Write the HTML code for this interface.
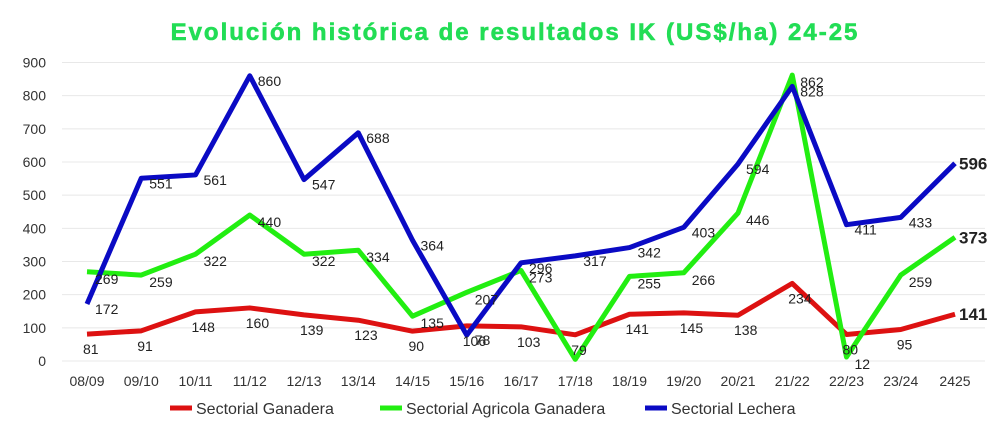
<!DOCTYPE html>
<html><head><meta charset="utf-8"><style>
body{margin:0;background:#fff;font-family:"Liberation Sans",sans-serif}
svg{display:block}
</style></head><body>
<svg id="c" width="1000" height="430">
<text x="515" y="40" text-anchor="middle" font-size="24" letter-spacing="2" font-weight="bold" fill="#22dd55" stroke="#22dd55" stroke-width="0.6">Evolución histórica de resultados IK (US$/ha) 24-25</text>
<g id="grid"></g><g id="lines"></g><g id="labels"></g><g id="legend"></g>
</svg>
<script>
const categories=["08/09","09/10","10/11","11/12","12/13","13/14","14/15","15/16","16/17","17/18","18/19","19/20","20/21","21/22","22/23","23/24","2425"];
const ganadera=[81,91,148,160,139,123,90,106,103,79,141,145,138,234,80,95,141];
const agricola=[269,259,322,440,322,334,135,207,273,5,255,266,446,862,12,259,373];
const lechera=[172,551,561,860,547,688,364,78,296,317,342,403,594,828,411,433,596];
const agricolaLabels=["269","259","322","440","322","334","135","207","273","","255","266","446","862","12","259","373"];
const yTicks=[0,100,200,300,400,500,600,700,800,900];
const NS="http://www.w3.org/2000/svg";
const x=i=>87+i*54.25, y=v=>361-v*(298.5/900);
function mk(t,a,p){const e=document.createElementNS(NS,t);for(const k in a)e.setAttribute(k,a[k]);p.appendChild(e);return e;}
const g=document.getElementById('grid');
yTicks.forEach(v=>{
 const l=mk('line',{x1:62,x2:985,y1:y(v),y2:y(v),stroke:'#e8e8e8','stroke-width':1},g);
 
 
 const t=mk('text',{x:46,y:y(v)+5,'text-anchor':'end','font-size':14,fill:'#333'},g);t.textContent=v;
 
 
});
categories.forEach((c,i)=>{
 const t=mk('text',{x:x(i),y:386,'text-anchor':'middle','font-size':14,fill:'#333'},g);t.textContent=c;
 
 
});
const series=[[ganadera,'#dd1111','ganadera-line',ganadera.map(String),-4,20],[agricola,'#22ee11','agricola-line',agricolaLabels,8,12],[lechera,'#0a0ac4','lechera-line',lechera.map(String),8,10]];
const L=document.getElementById('lines'),T=document.getElementById('labels');
series.forEach(([d,col,name,labs,dx,dy])=>{
 const p=mk('polyline',{points:d.map((v,i)=>x(i)+','+y(v)).join(' '),fill:'none',stroke:col,'stroke-width':5,'stroke-linejoin':'round'},L);
 
 
 d.forEach((v,i)=>{
  if(!labs[i])return;
  const last=i===d.length-1;
  const t=mk('text',{x:x(i)+(last?4:dx),y:y(v)+(last?6:dy),'font-size':last?17:14,'font-weight':last?'bold':'normal',fill:'#222'},T);
  t.textContent=labs[i];
  
  
 });
});
const lg=document.getElementById('legend');
[['Sectorial Ganadera','#dd1111',170],['Sectorial Agricola Ganadera','#22ee11',380],['Sectorial Lechera','#0a0ac4',645]].forEach(([n,c,lx])=>{
 const l=mk('line',{x1:lx,x2:lx+22,y1:408,y2:408,stroke:c,'stroke-width':5},lg);
 
 
 const t=mk('text',{x:lx+26,y:414,'font-size':16,fill:'#333'},lg);t.textContent=n;
 
 
});
</script>
</body></html>
